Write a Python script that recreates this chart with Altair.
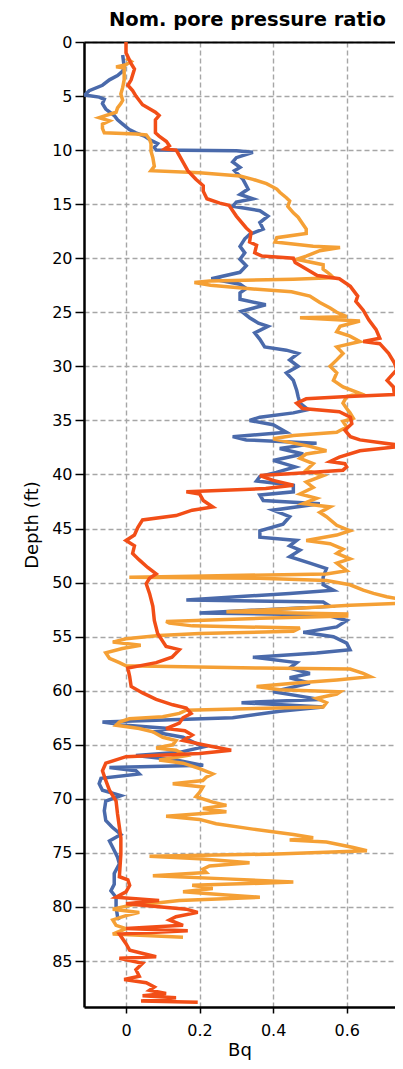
import altair as alt
import pandas as pd

# ---- data (depth in ft, Bq) ----
blue_depth = [1.2, 2.3, 2.7, 3.1, 3.5, 4.0, 4.5, 4.9, 5.1, 5.3, 5.7, 6.2, 6.8, 7.2, 7.6, 8.1, 8.4, 8.7, 9.1, 9.4,
              9.75, 10.0, 10.05, 10.2, 10.7, 11.1, 11.6, 11.9, 12.7, 13.6, 14.1, 14.5, 14.8, 15.2, 15.6, 16.1, 16.7,
              17.3, 17.8, 18.2, 18.9, 19.5, 20.1, 20.7, 21.3, 21.9, 22.4, 22.8, 23.2, 23.8, 24.3, 24.9, 25.5, 26.0,
              26.3, 26.9, 27.5, 28.2, 28.5, 28.8, 29.4, 30.0, 30.6, 31.3, 32.2, 32.8, 33.4, 34.0, 34.3, 34.7, 35.0,
              35.4, 36.1, 36.5, 36.8, 37.1, 37.6, 38.1, 38.7, 39.3, 39.8, 40.2, 40.6, 41.0, 41.6, 41.9, 42.4, 42.7,
              43.3, 43.9, 44.6, 45.2, 45.8, 46.1, 46.6, 47.0, 47.6, 48.2, 48.7, 49.5, 50.2, 50.7, 51.0, 51.6, 51.8,
              52.2, 52.8, 53.0, 53.5, 54.1, 54.6, 55.0, 55.6, 56.2, 56.5, 56.9, 57.4, 57.9, 58.4, 58.8, 59.3, 60.1,
              60.5, 60.8, 61.1, 61.5, 61.9, 62.5, 62.9, 63.2, 63.5, 63.8, 64.3, 64.7, 65.2, 65.7, 66.0, 66.4, 66.9,
              67.1, 67.4, 67.7, 68.1, 68.6, 69.2, 69.7, 70.2, 71.1, 72.0, 72.6, 73.3, 73.9, 74.5, 75.4, 76.0, 76.9,
              77.9, 78.5, 79.1, 80.0, 80.9, 81.2]
blue_bq = [-0.009, -0.005, -0.009, -0.023, -0.045, -0.064, -0.1, -0.112, -0.073, -0.059, -0.064, -0.055, -0.032,
           -0.023, -0.009, 0.009, 0.027, 0.05, 0.068, 0.086, 0.077, 0.082, 0.3, 0.345, 0.3, 0.29, 0.31, 0.295, 0.318,
           0.332, 0.31, 0.345, 0.3, 0.29, 0.364, 0.386, 0.364, 0.373, 0.336, 0.323, 0.31, 0.323, 0.31, 0.327, 0.31,
           0.232, 0.31, 0.327, 0.31, 0.31, 0.38, 0.314, 0.336, 0.36, 0.386, 0.35, 0.364, 0.377, 0.436, 0.468, 0.445,
           0.468, 0.436, 0.455, 0.464, 0.468, 0.473, 0.495, 0.455, 0.364, 0.336, 0.4, 0.436, 0.29, 0.327, 0.518,
           0.418, 0.482, 0.4, 0.46, 0.409, 0.364, 0.355, 0.455, 0.455, 0.364, 0.373, 0.527, 0.4, 0.445, 0.427, 0.364,
           0.364, 0.464, 0.445, 0.473, 0.445, 0.5, 0.545, 0.536, 0.536, 0.564, 0.445, 0.164, 0.536, 0.555, 0.2, 0.545,
           0.6, 0.573, 0.482, 0.564, 0.6, 0.609, 0.518, 0.345, 0.464, 0.445, 0.5, 0.445, 0.5, 0.4, 0.473, 0.527,
           0.314, 0.536, 0.418, 0.29, -0.064, 0.0, 0.118, 0.073, 0.155, 0.18, 0.21, 0.145, 0.027, 0.136, 0.21,
           -0.045, 0.027, 0.036, -0.068, -0.073, -0.064, -0.014, -0.055, -0.059, -0.055, -0.038, -0.014, -0.045,
           -0.036, -0.023, -0.018, -0.032, -0.032, -0.041, -0.027, -0.027, -0.023, -0.018]

orange_depth = [1.5, 1.8, 2.1, 2.3, 2.4, 3.5, 4.2, 4.8, 5.4, 5.7, 6.1, 6.5, 7.0, 7.3, 7.6, 8.0, 8.4, 8.5, 8.6, 9.0,
                9.4, 10.1, 10.7, 11.5, 11.9, 12.1, 12.4, 12.7, 13.1, 13.6, 13.9, 14.4, 14.7, 15.2, 15.8, 16.2, 16.9,
                17.3, 17.7, 18.1, 18.5, 18.9, 19.0, 19.3, 19.8, 20.1, 20.6, 21.0, 21.5, 21.8, 21.95, 22.1, 22.25, 22.5,
                22.8, 23.1, 23.5, 23.7, 24.1, 24.6, 25.0, 25.4, 25.5, 25.8, 26.3, 26.8, 27.2, 27.7, 28.2, 28.8, 29.4,
                30.0, 30.6, 31.3, 31.9, 32.5, 32.8, 33.4, 33.9, 34.3, 34.8, 35.1, 35.6, 36.1, 36.4, 36.7, 37.1, 37.4,
                37.8, 38.1, 38.5, 39.0, 39.6, 40.1, 40.7, 41.2, 41.8, 42.2, 42.7, 43.0, 43.5, 43.9, 44.7, 45.2, 45.6,
                46.1, 46.4, 46.9, 47.3, 47.8, 48.2, 48.9, 49.2, 49.4, 49.5, 49.6, 49.8, 50.2, 50.7, 51.0, 51.3, 51.6,
                51.9, 52.1, 52.4, 52.7, 52.9, 53.1, 53.3, 53.6, 53.75, 54.0, 54.2, 54.5, 54.7, 54.9, 55.2, 55.5, 55.8,
                56.1, 56.5, 57.0, 57.4, 57.7, 57.9, 58.0, 58.4, 58.7, 59.0, 59.3, 59.6, 59.9, 60.1, 60.3, 60.7, 61.1,
                61.5, 61.8, 62.1, 62.4, 62.6, 62.9, 63.2, 63.5, 63.8, 64.3, 64.6, 65.0, 65.3, 65.5, 66.0, 66.4, 66.7,
                67.2, 67.7, 68.0, 68.3, 68.6, 68.9, 69.4, 69.8, 70.3, 70.6, 70.9, 71.2, 71.6, 71.9, 72.3, 72.8, 73.3,
                73.6, 73.8, 74.0, 74.5, 74.8, 75.1, 75.3, 75.55, 75.9, 76.2, 76.5, 76.8, 77.1, 77.4, 77.7, 78.0, 78.3,
                78.6, 78.9, 79.1, 79.4, 79.6, 79.8, 80.2, 80.5, 80.8, 81.2, 81.7, 82.0, 82.5, 82.8]
orange_bq = [0.0, 0.014, 0.0, -0.027, -0.005, -0.005, -0.009, -0.014, -0.009, -0.014, -0.023, -0.027, -0.073,
             -0.045, -0.064, -0.064, -0.059, 0.027, 0.055, 0.064, 0.068, 0.068, 0.073, 0.077, 0.068, 0.2, 0.31, 0.345,
             0.382, 0.41, 0.418, 0.436, 0.445, 0.44, 0.455, 0.468, 0.482, 0.49, 0.49, 0.41, 0.405, 0.509, 0.582, 0.527,
             0.49, 0.464, 0.536, 0.536, 0.555, 0.564, 0.455, 0.227, 0.186, 0.23, 0.33, 0.45, 0.5, 0.509, 0.527, 0.555,
             0.573, 0.6, 0.473, 0.636, 0.582, 0.573, 0.609, 0.636, 0.573, 0.59, 0.573, 0.555, 0.573, 0.564, 0.59,
             0.636, 0.6, 0.59, 0.6, 0.609, 0.618, 0.59, 0.6, 0.573, 0.455, 0.4, 0.455, 0.5, 0.545, 0.49, 0.473, 0.509,
             0.49, 0.536, 0.49, 0.509, 0.473, 0.518, 0.482, 0.555, 0.527, 0.545, 0.573, 0.609, 0.573, 0.49, 0.555,
             0.59, 0.573, 0.609, 0.573, 0.6, 0.545, 0.18, 0.009, 0.364, 0.545, 0.609, 0.645, 0.673, 0.709, 0.755,
             0.75, 0.609, 0.455, 0.273, 0.6, 0.6, 0.364, 0.109, 0.118, 0.18, 0.473, 0.455, 0.2, 0.09, 0.0, -0.036,
             0.04, -0.01, -0.055, -0.045, -0.018, 0.0, 0.364, 0.609, 0.645, 0.664, 0.573, 0.455, 0.355, 0.418, 0.582,
             0.573, 0.518, 0.545, 0.536, 0.164, 0.145, 0.1, 0.009, -0.018, -0.027, 0.036, 0.073, 0.1, 0.136, 0.127,
             0.082, 0.136, 0.164, 0.09, 0.155, 0.2, 0.236, 0.218, 0.209, 0.127, 0.209, 0.2, 0.19, 0.236, 0.273, 0.209,
             0.273, 0.109, 0.2, 0.245, 0.345, 0.455, 0.509, 0.445, 0.545, 0.618, 0.655, 0.41, 0.064, 0.2, 0.336,
             0.227, 0.209, 0.218, 0.073, 0.273, 0.455, 0.18, 0.236, 0.155, 0.273, 0.364, 0.145, 0.09, 0.018, -0.036,
             0.036, 0.0, -0.036, -0.027, 0.0, -0.036, 0.155]

red_depth = [0.0, 1.0, 2.0, 2.5, 3.5, 4.0, 4.5, 5.0, 5.8, 6.5, 6.8, 7.2, 8.4, 8.7, 9.2, 9.6, 9.9, 10.0, 10.2, 11.1,
             11.9, 12.7, 13.3, 13.8, 14.5, 14.9, 15.1, 16.1, 17.2, 17.6, 18.5, 18.8, 19.5, 19.8, 20.0, 20.4, 21.0,
             21.6, 21.9, 22.6, 23.5, 24.0, 24.8, 25.7, 26.6, 27.4, 27.7, 27.9, 28.8, 29.7, 30.3, 31.3, 31.9, 32.6,
             32.8, 33.0, 33.4, 33.9, 34.2, 34.7, 35.3, 35.9, 36.5, 36.8, 37.3, 37.4, 37.8, 38.4, 38.8, 39.0, 39.3,
             39.6, 39.9, 40.1, 40.55, 41.0, 41.3, 41.6, 41.8, 42.4, 43.0, 43.3, 43.8, 44.2, 44.9, 45.6, 46.1, 46.6,
             47.3, 47.9, 48.6, 49.2, 49.6, 50.1, 51.0, 52.2, 53.5, 54.7, 55.9, 56.2, 56.9, 57.4, 57.9, 58.7, 59.6,
             60.2, 60.8, 61.3, 61.6, 62.1, 62.5, 63.0, 63.5, 63.7, 64.1, 64.6, 65.0, 65.5, 65.8, 66.1, 66.7, 67.4,
             68.3, 69.2, 70.2, 71.4, 72.6, 73.6, 75.1, 77.2, 77.5, 78.0, 78.6, 79.1, 79.4, 79.7, 80.2, 80.5, 80.9,
             81.2, 81.7, 82.0, 82.2, 82.5, 83.4, 84.0, 84.6, 84.75, 85.2, 85.8, 86.4, 86.7, 87.0, 87.4, 87.7, 88.0,
             88.2, 88.4, 88.7, 88.8]
red_bq = [0.0, 0.0, 0.014, 0.023, 0.014, 0.005, 0.018, 0.027, 0.045, 0.08, 0.09, 0.08, 0.08, 0.09, 0.11, 0.118,
          0.105, 0.136, 0.14, 0.155, 0.168, 0.19, 0.21, 0.21, 0.22, 0.255, 0.28, 0.3, 0.327, 0.34, 0.336, 0.355, 0.35,
          0.37, 0.455, 0.46, 0.49, 0.52, 0.58, 0.61, 0.63, 0.625, 0.645, 0.66, 0.68, 0.69, 0.645, 0.69, 0.714, 0.73,
          0.736, 0.71, 0.727, 0.73, 0.59, 0.49, 0.464, 0.48, 0.58, 0.61, 0.614, 0.595, 0.61, 0.636, 0.745, 0.75,
          0.636, 0.58, 0.555, 0.595, 0.6, 0.59, 0.455, 0.364, 0.4, 0.455, 0.38, 0.164, 0.2, 0.21, 0.236, 0.18, 0.136,
          0.045, 0.032, 0.023, 0.0, 0.023, 0.018, 0.036, 0.059, 0.082, 0.064, 0.055, 0.064, 0.073, 0.077, 0.086,
          0.109, 0.145, 0.125, 0.082, 0.005, 0.01, 0.014, 0.045, 0.082, 0.127, 0.164, 0.177, 0.155, 0.145, 0.109,
          0.16, 0.18, 0.155, 0.21, 0.286, 0.2, 0.0, -0.055, -0.064, -0.055, -0.045, -0.027, -0.023, -0.018, -0.014,
          -0.014, -0.018, 0.005, 0.01, 0.0, -0.027, 0.09, 0.0, 0.164, 0.195, 0.136, 0.118, 0.155, 0.0, 0.168, -0.018,
          0.0, 0.01, 0.082, -0.018, 0.045, 0.027, 0.036, -0.005, 0.055, 0.077, 0.064, 0.109, 0.045, 0.136, 0.041,
          0.195]

series_names = ["blue", "orange", "red"]
series_colors = ["#4a6aab", "#f5a035", "#f24e17"]

frames = []
for name, dep, bq in [("blue", blue_depth, blue_bq), ("orange", orange_depth, orange_bq), ("red", red_depth, red_bq)]:
    frames.append(pd.DataFrame({"series": name, "depth": dep, "bq": bq, "idx": range(len(dep))}))
df = pd.concat(frames, ignore_index=True)

FONT = "DejaVu Sans"

xscale = alt.Scale(domain=[-0.1142, 0.7314], nice=False, zero=False)
yscale = alt.Scale(domain=[0, 89.25], reverse=True, nice=False, zero=False)

lines = alt.Chart(df).mark_line(strokeWidth=3.5, clip=True).encode(
    x=alt.X("bq:Q", scale=xscale,
            axis=alt.Axis(title="Bq", values=[0, 0.2, 0.4, 0.6], format="~g", orient="bottom",
                          tickSize=6, labelPadding=9, titlePadding=3, grid=True)),
    y=alt.Y("depth:Q", scale=yscale,
            axis=alt.Axis(title="Depth (ft)", values=list(range(0, 90, 5)), tickSize=9, labelPadding=3,
                          titlePadding=10, grid=True)),
    color=alt.Color("series:N", scale=alt.Scale(domain=series_names, range=series_colors), legend=None),
    order=alt.Order("idx:Q"),
)

top = alt.Chart(df).mark_point(opacity=0).encode(
    x=alt.X("bq:Q", scale=xscale,
            axis=alt.Axis(orient="top", labels=False, ticks=False, grid=False, title=None, domainWidth=2)),
    y=alt.Y("depth:Q", scale=yscale),
)

chart = alt.layer(lines, top).resolve_axis(x="independent").properties(
    width=311, height=965,
    autosize=alt.AutoSizeParams(type="none"),
    padding={"left": 76, "top": 34, "right": 0, "bottom": 54},
    title=alt.TitleParams("Nom. pore pressure ratio", anchor="start", frame="group", dx=25, offset=0, dy=11,
                          baseline="alphabetic", font=FONT, fontSize=19.5, fontWeight="bold", color="black"),
).configure_view(stroke=None).configure_axis(
    labelFont=FONT, labelFontSize=16, labelColor="black",
    titleFont=FONT, titleFontSize=18, titleFontWeight="normal", titleColor="black",
    domainColor="black", domainWidth=2.5, tickColor="black", tickWidth=1.5,
    gridColor="#a6a6a6", gridDash=[5, 3], gridWidth=1.4,
)

chart.save("out.html", embed_options={"renderer": "svg", "actions": False})
